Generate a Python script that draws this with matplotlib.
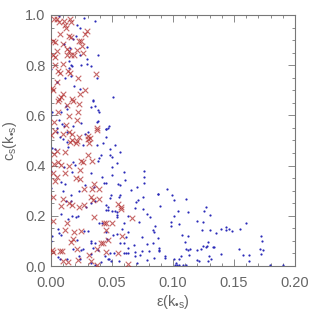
import matplotlib
matplotlib.use('Agg')
import matplotlib.pyplot as plt
from matplotlib.ticker import MultipleLocator

plt.rcParams['font.family'] = ['Liberation Sans', 'DejaVu Sans']
plt.rcParams['mathtext.fontset'] = 'custom'
plt.rcParams['mathtext.rm'] = 'Liberation Sans'
plt.rcParams['mathtext.it'] = 'Liberation Sans'

# blue dots: all modes (epsilon, c_s)
blue_eps = [
    0.0068, 0.0268, 0.0358, 0.0216, 0.0240, 0.0207, 0.0178, 0.0293, 0.0385, 0.0107,
    0.0153, 0.0238, 0.0298, 0.0150, 0.0248, 0.0298, 0.0330, 0.0161, 0.0172, 0.0145,
    0.0117, 0.0161, 0.0047, 0.0380, 0.0189, 0.0238, 0.0347, 0.0363, 0.0385, 0.0330,
    0.0134, 0.0123, 0.0084, 0.0000, 0.0008, 0.0068, 0.0090, 0.0107, 0.0183, 0.0248,
    0.0380, 0.0052, 0.0129, 0.0281, 0.0303, 0.0074, 0.0052, 0.0342, 0.0391, 0.0383,
    0.0000, 0.0101, 0.0129, 0.0260, 0.0375, 0.0424, 0.0008, 0.0030, 0.0139, 0.0391,
    0.0412, 0.0183, 0.0385, 0.0107, 0.0199, 0.0330, 0.0172, 0.0084, 0.0112, 0.0418,
    0.0434, 0.0276, 0.0352, 0.0232, 0.0101, 0.0166, 0.0000, 0.0000, 0.0123, 0.0161,
    0.0325, 0.0358, 0.0287, 0.0084, 0.0139, 0.0172, 0.0205, 0.0221, 0.0391, 0.0418,
    0.0057, 0.0068, 0.0080, 0.0270, 0.0303, 0.0002, 0.0211, 0.0325, 0.0330, 0.0363,
    0.0457, 0.0178, 0.0248, 0.0265, 0.0342, 0.0385, 0.0057, 0.0074, 0.0129, 0.0227,
    0.0238, 0.0330, 0.0440, 0.0325, 0.0358, 0.0412, 0.0008,
    0.0508, 0.0478, 0.0467, 0.0453, 0.0448, 0.0453,
    0.0527, 0.0481, 0.0563, 0.0484, 0.0502, 0.0539, 0.0500, 0.0596, 0.0765, 0.0502,
    0.0760, 0.0607, 0.0451, 0.0552, 0.0566, 0.0760, 0.0707, 0.0656, 0.0489, 0.0484,
    0.0568, 0.0560, 0.0754, 0.0875, 0.0716, 0.0697, 0.0451, 0.0465, 0.0689, 0.0754,
    0.0448, 0.0465, 0.0498, 0.0525, 0.0541, 0.0543, 0.0541, 0.0784, 0.0629, 0.0601,
    0.0719, 0.0580, 0.0453, 0.0634, 0.0508, 0.0541, 0.0617, 0.0748, 0.0568, 0.0601,
    0.0683, 0.0784, 0.0634, 0.0481, 0.0519, 0.0598, 0.0612, 0.0634, 0.0689, 0.0743,
    0.0801, 0.0730, 0.0691, 0.0465, 0.0475, 0.0557, 0.0702, 0.0787, 0.0492,
    0.0953, 0.0877, 0.0992, 0.1008, 0.1104, 0.0893, 0.1268, 0.0811, 0.1043, 0.1125,
    0.1257, 0.1011, 0.1301, 0.0986, 0.0981, 0.1049, 0.1194, 0.1243, 0.1601, 0.0852,
    0.0834, 0.0844, 0.1235, 0.1301, 0.1393, 0.1437, 0.1457, 0.1434, 0.1481, 0.1355,
    0.1552, 0.1074, 0.1125, 0.1719, 0.1727, 0.0880, 0.1096, 0.1289, 0.0834, 0.1248,
    0.1268, 0.1279, 0.1328, 0.1334, 0.0888, 0.0885, 0.0888, 0.1104, 0.1120, 0.1142,
    0.1197, 0.1232, 0.1539, 0.1713, 0.1738, 0.1571, 0.1620, 0.1393, 0.1719, 0.0844,
    0.0932, 0.0932, 0.1066, 0.1129, 0.1194, 0.1216, 0.1298, 0.1314, 0.1289, 0.1008,
    0.1052, 0.1025, 0.1019, 0.1035, 0.1049, 0.1080, 0.1107, 0.1623, 0.1795, 0.1904,
]
blue_cs = [
    0.996, 0.987, 0.977, 0.961, 0.948, 0.916, 0.906, 0.874, 0.842, 0.883,
    0.869, 0.842, 0.826, 0.818, 0.802, 0.804, 0.796, 0.800, 0.796, 0.790,
    0.748, 0.756, 0.732, 0.750, 0.718, 0.705, 0.657, 0.639, 0.623, 0.633,
    0.625, 0.636, 0.612, 0.602, 0.612, 0.583, 0.567, 0.559, 0.559, 0.570,
    0.575, 0.549, 0.533, 0.527, 0.533, 0.514, 0.533, 0.661, 0.615, 0.579,
    0.784, 0.505, 0.494, 0.481, 0.483, 0.489, 0.470, 0.465, 0.473, 0.430,
    0.441, 0.414, 0.417, 0.393, 0.404, 0.372, 0.375, 0.335, 0.327, 0.353,
    0.329, 0.324, 0.316, 0.300, 0.298, 0.284, 0.311, 0.380, 0.258, 0.260,
    0.252, 0.260, 0.234, 0.207, 0.188, 0.199, 0.196, 0.199, 0.170, 0.170,
    0.149, 0.133, 0.125, 0.141, 0.138, 0.101, 0.104, 0.101, 0.093, 0.090,
    0.109, 0.067, 0.064, 0.069, 0.072, 0.064, 0.037, 0.027, 0.029, 0.040,
    0.029, 0.048, 0.040, 0.011, 0.005, 0.016, 0.120,
    0.673, 0.557, 0.551, 0.547, 0.545, 0.515,
    0.481, 0.467, 0.454, 0.441, 0.434, 0.409, 0.393, 0.375, 0.377, 0.364,
    0.356, 0.343, 0.329, 0.327, 0.322, 0.329, 0.314, 0.302, 0.282, 0.271,
    0.282, 0.276, 0.276, 0.287, 0.262, 0.254, 0.243, 0.234, 0.231, 0.228,
    0.224, 0.222, 0.220, 0.218, 0.215, 0.202, 0.194, 0.207, 0.199, 0.173,
    0.174, 0.149, 0.135, 0.134, 0.125, 0.127, 0.117, 0.114, 0.093, 0.093,
    0.085, 0.088, 0.073, 0.052, 0.053, 0.053, 0.052, 0.052, 0.056, 0.061,
    0.059, 0.045, 0.041, 0.029, 0.027, 0.021, 0.013, 0.024, 0.020,
    0.308, 0.288, 0.282, 0.264, 0.268, 0.239, 0.236, 0.195, 0.219, 0.216,
    0.219, 0.199, 0.202, 0.174, 0.161, 0.167, 0.178, 0.175, 0.173, 0.161,
    0.143, 0.134, 0.145, 0.142, 0.147, 0.155, 0.147, 0.143, 0.138, 0.133,
    0.149, 0.122, 0.121, 0.120, 0.100, 0.112, 0.096, 0.096, 0.093, 0.081,
    0.077, 0.078, 0.075, 0.077, 0.073, 0.065, 0.061, 0.069, 0.065, 0.068,
    0.064, 0.067, 0.069, 0.068, 0.064, 0.045, 0.044, 0.047, 0.049, 0.033,
    0.041, 0.032, 0.040, 0.043, 0.024, 0.019, 0.040, 0.028, 0.019, 0.028,
    0.027, 0.013, 0.005, 0.005, 0.005, 0.005, 0.005, 0.020, 0.005, 0.003,
]

# red crosses: selected modes
red_eps = [
    0.0025, 0.0052, 0.0063, 0.0107, 0.0112, 0.0156, 0.0166, 0.0125, 0.0071, 0.0145,
    0.0161, 0.0298, 0.0276, 0.0227, 0.0248, 0.0014, 0.0035, 0.0096, 0.0254, 0.0134,
    0.0150, 0.0052, 0.0211, 0.0260, 0.0129, 0.0161, 0.0189, 0.0019, 0.0030, 0.0096,
    0.0030, 0.0057, 0.0074, 0.0139, 0.0156, 0.0366,
    0.0221, 0.0008, 0.0052, 0.0096, 0.0084, 0.0068, 0.0057, 0.0172, 0.0183, 0.0238,
    0.0281, 0.0019, 0.0232, 0.0129, 0.0057, 0.0221, 0.0145, 0.0216, 0.0025, 0.0123,
    0.0380, 0.0375, 0.0030, 0.0150, 0.0172, 0.0227, 0.0303, 0.0320, 0.0101, 0.0000,
    0.0172, 0.0156, 0.0216, 0.0205, 0.0303, 0.0314, 0.0047, 0.0025, 0.0112, 0.0303,
    0.0243, 0.0260, 0.0336, 0.0057, 0.0084, 0.0025, 0.0145, 0.0238, 0.0014, 0.0117,
    0.0047, 0.0205, 0.0238, 0.0030, 0.0352, 0.0270, 0.0336, 0.0396, 0.0014, 0.0325,
    0.0347, 0.0101, 0.0391,
    0.0080, 0.0145, 0.0172, 0.0227, 0.0270, 0.0352, 0.0434, 0.0019, 0.0129, 0.0117,
    0.0189, 0.0248, 0.0178, 0.0166, 0.0407, 0.0429, 0.0008, 0.0014, 0.0074, 0.0090,
    0.0216, 0.0380, 0.0309, 0.0221, 0.0101, 0.0139, 0.0330, 0.0380,
    0.0552, 0.0574, 0.0576, 0.0661, 0.0502, 0.0448, 0.0453, 0.0584, 0.0465, 0.0448,
    0.0547, 0.0629,
]
red_cs = [
    0.983, 0.985, 0.972, 0.975, 0.959, 0.983, 0.972, 0.948, 0.924, 0.918,
    0.912, 0.935, 0.924, 0.898, 0.895, 0.895, 0.892, 0.884, 0.875, 0.863,
    0.855, 0.858, 0.862, 0.849, 0.839, 0.842, 0.839, 0.842, 0.831, 0.805,
    0.802, 0.776, 0.769, 0.778, 0.768, 0.765,
    0.750, 0.708, 0.732, 0.684, 0.673, 0.665, 0.657, 0.665, 0.657, 0.684,
    0.702, 0.700, 0.647, 0.641, 0.612, 0.612, 0.596, 0.583, 0.573, 0.562,
    0.549, 0.541, 0.538, 0.533, 0.527, 0.514, 0.518, 0.509, 0.527, 0.522,
    0.502, 0.494, 0.499, 0.491, 0.505, 0.491, 0.459, 0.446, 0.454, 0.441,
    0.420, 0.414, 0.420, 0.414, 0.404, 0.406, 0.398, 0.382, 0.372, 0.372,
    0.353, 0.351, 0.348, 0.337, 0.327, 0.306, 0.306, 0.306, 0.274, 0.274,
    0.263, 0.266, 0.266,
    0.239, 0.252, 0.244, 0.236, 0.244, 0.196, 0.170, 0.178, 0.170, 0.143,
    0.135, 0.141, 0.106, 0.096, 0.093, 0.090, 0.064, 0.056, 0.059, 0.059,
    0.067, 0.067, 0.045, 0.024, 0.021, 0.016, 0.019, 0.005,
    0.248, 0.235, 0.228, 0.191, 0.173, 0.170, 0.143, 0.118, 0.102, 0.057,
    0.051, 0.008,
]

fig = plt.figure(figsize=(3.12, 3.12), dpi=100)
ax = fig.add_axes([0.1635, 0.1474, 0.782, 0.8046])

ax.scatter(blue_eps, blue_cs, s=2.5, color='#2a2ab8', linewidths=0, zorder=2)
ax.scatter(red_eps, red_cs, s=16, marker='x', color='#b02828', linewidths=0.8,
           alpha=0.7, zorder=3)

ax.set_xlim(0, 0.2)
ax.set_ylim(0, 1.0)
ax.xaxis.set_major_locator(MultipleLocator(0.05))
ax.xaxis.set_minor_locator(MultipleLocator(0.01))
ax.yaxis.set_major_locator(MultipleLocator(0.2))
ax.yaxis.set_minor_locator(MultipleLocator(0.05))
ax.xaxis.set_major_formatter(lambda v, p: f'{v:.2f}')
ax.yaxis.set_major_formatter(lambda v, p: f'{v:.1f}')

gray = '#777777'
txt = '#666666'
for s in ax.spines.values():
    s.set_color(gray)
    s.set_linewidth(0.8)
ax.tick_params(which='both', direction='in', top=True, right=True, color=gray,
               labelcolor=txt, labelsize=10.5, width=0.6)
ax.tick_params(which='major', length=5)
ax.tick_params(axis='x', which='major', pad=7)
ax.tick_params(axis='y', which='major', pad=4)
ax.tick_params(which='minor', length=2.5)

ax.set_xlabel('$\\mathregular{\\epsilon(k_{\u2022s})}$', color=txt, fontsize=10.5, labelpad=2)
ax.set_ylabel('$\\mathregular{c_s(k_{\u2022s})}$', color=txt, fontsize=10.5, labelpad=4)

fig.savefig('out.png', dpi=100)
